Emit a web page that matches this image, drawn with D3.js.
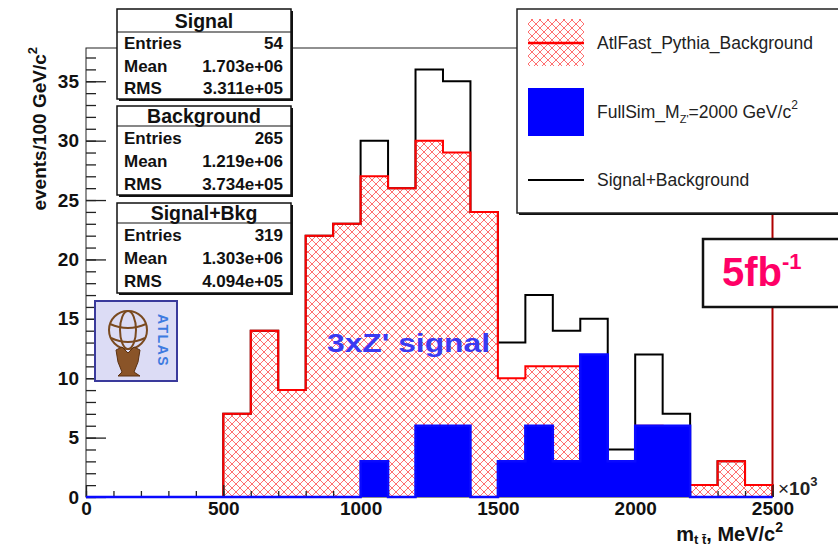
<!DOCTYPE html>
<html>
<head>
<meta charset="utf-8">
<script src="https://cdn.jsdelivr.net/npm/d3@7"></script>
<style>
  body { margin: 0; background: #fff; }
  svg { display: block; }
  text { font-family: "Liberation Sans", Arial, sans-serif; }
</style>
</head>
<body>
<svg width="838" height="548"></svg>
<script>
// bins of 100 GeV, in units of 10^3 MeV
const binLow = [0, 100, 200, 300, 400, 500, 600, 700, 800, 900, 1000, 1100, 1200,
  1300, 1400, 1500, 1600, 1700, 1800, 1900, 2000, 2100, 2200, 2300, 2400];
const binWidth = 100;

const background = [0, 0, 0, 0, 0, 7, 14, 9, 22, 23, 27, 26, 30, 29, 24, 10, 11, 11, 3, 1, 6, 1, 1, 3, 1];
const signal = [0, 0, 0, 0, 0, 0, 0, 0, 0, 0, 3, 0, 6, 6, 0, 3, 6, 3, 12, 3, 6, 6, 0, 0, 0];
const combined = [0, 0, 0, 0, 0, 7, 14, 9, 22, 23, 30, 26, 36, 35, 24, 13, 17, 14, 15, 4, 12, 7, 1, 3, 1];

const xTicks = [0, 500, 1000, 1500, 2000, 2500];
const yTicks = [0, 5, 10, 15, 20, 25, 30, 35];

const statTitles = ["Signal", "Background", "Signal+Bkg"];
const statEntries = ["54", "265", "319"];
const statMeans = ["1.703e+06", "1.219e+06", "1.303e+06"];
const statRms = ["3.311e+05", "3.734e+05", "4.094e+05"];

const svg = d3.select("svg"),
    width = +svg.attr("width"),
    height = +svg.attr("height");

const x = d3.scaleLinear().domain([0, 2500]).range([86, 772.5]);
const y = d3.scaleLinear().domain([0, 37.8]).range([497, 48]);

// hatch pattern for the background histogram
const defs = svg.append("defs");
const pat = defs.append("pattern")
    .attr("id", "hatch")
    .attr("patternUnits", "userSpaceOnUse")
    .attr("width", 8).attr("height", 8);
pat.append("path")
    .attr("d", "M0,0L8,8M0,8L8,0M-1,7L1,9M7,-1L9,1")
    .attr("stroke", "#ff4a4a")
    .attr("stroke-width", 0.8)
    .attr("fill", "none");

function stepPath(vals) {
  const p = d3.path();
  p.moveTo(x(binLow[0]), y(0));
  vals.forEach((v, i) => {
    p.lineTo(x(binLow[i]), y(v));
    p.lineTo(x(binLow[i] + binWidth), y(v));
  });
  p.lineTo(x(binLow[vals.length - 1] + binWidth), y(0));
  return p.toString();
}

// frame
svg.append("rect")
    .attr("x", x(0)).attr("y", y(37.8))
    .attr("width", x(2500) - x(0)).attr("height", y(0) - y(37.8))
    .attr("fill", "none").attr("stroke", "#222").attr("stroke-width", 1);
svg.append("line")
    .attr("x1", x(2500)).attr("x2", x(2500))
    .attr("y1", y(37.8)).attr("y2", y(0))
    .attr("stroke", "#b00000").attr("stroke-width", 2);

// signal + background outline
svg.append("path")
    .attr("d", stepPath(combined))
    .attr("fill", "none").attr("stroke", "#000").attr("stroke-width", 2);

// background, hatched
svg.append("path")
    .attr("d", stepPath(background))
    .attr("fill", "url(#hatch)").attr("stroke", "#ff0000").attr("stroke-width", 2);

// axes
const yMinor = d3.axisLeft(y).tickValues(d3.range(0, 38)).tickSizeInner(-10).tickSizeOuter(0).tickFormat("");
const yMajor = d3.axisLeft(y).tickValues(yTicks).tickSizeInner(-20).tickSizeOuter(0).tickPadding(7);
const xMinor = d3.axisBottom(x).tickValues(d3.range(0, 2501, 100)).tickSizeInner(-6).tickSizeOuter(0).tickFormat("");
const xMajor = d3.axisBottom(x).tickValues(xTicks).tickSizeInner(-12).tickSizeOuter(0).tickPadding(5)
    .tickFormat(d3.format("d"));

[yMinor, yMajor].forEach((ax) => {
  svg.append("g").attr("transform", "translate(" + x(0) + ",0)").call(ax)
    .call((g) => g.select(".domain").remove());
});
[xMinor, xMajor].forEach((ax) => {
  svg.append("g").attr("transform", "translate(0," + y(0) + ")").call(ax)
    .call((g) => g.select(".domain").remove());
});
svg.selectAll(".tick line").attr("stroke", "#222").attr("stroke-width", 1.3);
svg.selectAll(".tick text")
    .attr("font-family", "Liberation Sans, Arial, sans-serif")
    .attr("font-size", 19).attr("font-weight", "bold").attr("fill", "#111");

// signal, solid blue
svg.append("path")
    .attr("d", stepPath(signal))
    .attr("fill", "#0000ff").attr("stroke", "#0a0aff").attr("stroke-width", 2.5);

// axis titles
const xTitle = svg.append("text")
    .attr("x", 783).attr("y", 541)
    .attr("text-anchor", "end")
    .attr("font-size", 20).attr("font-weight", "bold").attr("fill", "#111");
xTitle.append("tspan").text("m");
xTitle.append("tspan").attr("font-size", 13).attr("dy", 3).text("t t\u0304");
xTitle.append("tspan").attr("dy", -3).text(", MeV/c");
xTitle.append("tspan").attr("font-size", 14).attr("dy", -9).text("2");

const expo = svg.append("text")
    .attr("x", 778).attr("y", 495)
    .attr("font-size", 19).attr("font-weight", "bold").attr("fill", "#222");
expo.append("tspan").attr("font-weight", "normal").text("\u00d7");
expo.append("tspan").text("10");
expo.append("tspan").attr("font-size", 13).attr("dy", -9).text("3");

const yTitle = svg.append("text")
    .attr("transform", "translate(46,47) rotate(-90)")
    .attr("text-anchor", "end")
    .attr("font-size", 19).attr("font-weight", "bold").attr("fill", "#111");
yTitle.append("tspan").text("events/100 GeV/c");
yTitle.append("tspan").attr("font-size", 13).attr("dy", -9).text("2");

// stats boxes
const boxTops = [9, 106, 203];
const boxSeps = [32, 126, 223];
const boxBottoms = [99, 195, 293];
statTitles.forEach((title, i) => {
  const g = svg.append("g");
  g.append("rect")
      .attr("x", 119).attr("y", boxTops[i] + 2)
      .attr("width", 174).attr("height", boxBottoms[i] - boxTops[i])
      .attr("fill", "#111");
  g.append("rect")
      .attr("x", 117).attr("y", boxTops[i])
      .attr("width", 174).attr("height", boxBottoms[i] - boxTops[i])
      .attr("fill", "#fff").attr("stroke", "#111").attr("stroke-width", 1.5);
  g.append("line")
      .attr("x1", 117).attr("x2", 291)
      .attr("y1", boxSeps[i]).attr("y2", boxSeps[i])
      .attr("stroke", "#111").attr("stroke-width", 1.2);
  g.append("text")
      .attr("x", 204).attr("y", (boxTops[i] + boxSeps[i]) / 2 + 7)
      .attr("text-anchor", "middle")
      .attr("font-size", 19.5).attr("font-weight", "bold").attr("fill", "#111")
      .text(title);
  const rowH = (boxBottoms[i] - boxSeps[i]) / 3;
  const rows = [["Entries", statEntries[i]], ["Mean", statMeans[i]], ["RMS", statRms[i]]];
  rows.forEach((r, j) => {
    const ty = boxSeps[i] + rowH * (j + 0.5) + 6;
    g.append("text").attr("x", 124).attr("y", ty)
        .attr("font-size", 17).attr("font-weight", "bold").attr("fill", "#111").text(r[0]);
    g.append("text").attr("x", 283).attr("y", ty).attr("text-anchor", "end")
        .attr("font-size", 17).attr("font-weight", "bold").attr("fill", "#111").text(r[1]);
  });
});

// legend
const leg = svg.append("g");
leg.append("rect").attr("x", 519).attr("y", 11).attr("width", 330).attr("height", 204).attr("fill", "#111");
leg.append("rect").attr("x", 517).attr("y", 9).attr("width", 330).attr("height", 204)
    .attr("fill", "#fff").attr("stroke", "#222").attr("stroke-width", 1.5);
leg.append("rect").attr("x", 528).attr("y", 19).attr("width", 56).attr("height", 47).attr("fill", "url(#hatch)");
leg.append("line").attr("x1", 528).attr("x2", 584).attr("y1", 43).attr("y2", 43)
    .attr("stroke", "#ff0000").attr("stroke-width", 2.5);
leg.append("rect").attr("x", 528).attr("y", 88).attr("width", 56).attr("height", 48).attr("fill", "#0000ff");
leg.append("line").attr("x1", 528).attr("x2", 584).attr("y1", 180).attr("y2", 180)
    .attr("stroke", "#000").attr("stroke-width", 2);
const legFont = (t) => t.attr("font-size", 17.5).attr("fill", "#222");
leg.append("text").attr("x", 597).attr("y", 49).call(legFont).text("AtlFast_Pythia_Background");
const l2 = leg.append("text").attr("x", 597).attr("y", 118).call(legFont);
l2.append("tspan").text("FullSim_M");
l2.append("tspan").attr("font-size", 11).attr("dy", 5).text("Z'");
l2.append("tspan").attr("dy", -5).text("=2000 GeV/c");
l2.append("tspan").attr("font-size", 12).attr("dy", -9).text("2");
leg.append("text").attr("x", 597).attr("y", 186).call(legFont).text("Signal+Background");

// luminosity box
svg.append("rect").attr("x", 703).attr("y", 239).attr("width", 150).attr("height", 68)
    .attr("fill", "#fff").attr("stroke", "#111").attr("stroke-width", 2.5);
const lumi = svg.append("text")
    .attr("x", 722).attr("y", 286)
    .attr("font-family", "DejaVu Sans, sans-serif")
    .attr("font-size", 40).attr("font-weight", "bold").attr("fill", "#ff0066");
lumi.append("tspan").text("5fb");
lumi.append("tspan").attr("font-size", 22).attr("dy", -17).text("-1");

// annotation
svg.append("text")
    .attr("x", 327).attr("y", 352)
    .attr("font-family", "DejaVu Sans, sans-serif")
    .attr("font-size", 25).attr("font-weight", "bold").attr("fill", "#3a3af2")
    .attr("textLength", 163).attr("lengthAdjust", "spacingAndGlyphs")
    .text("3xZ' signal");

// ATLAS logo
const logo = svg.append("g");
logo.append("rect").attr("x", 95).attr("y", 301).attr("width", 82).attr("height", 80)
    .attr("fill", "#dcdcf5").attr("stroke", "#3a3a9c").attr("stroke-width", 2);
const globe = logo.append("g").attr("fill", "none").attr("stroke", "#7a4a20").attr("stroke-width", 2);
globe.append("circle").attr("cx", 128).attr("cy", 330).attr("r", 19);
globe.append("ellipse").attr("cx", 128).attr("cy", 330).attr("rx", 8).attr("ry", 19);
globe.append("path").attr("d", "M110,324Q128,332 146,324M111,338Q128,346 145,338");
logo.append("path")
    .attr("d", "M116,350L122,347L128,353L134,347L140,350L138,362L134,372L140,376L118,376L122,372L118,362Z")
    .attr("fill", "#8a5428").attr("stroke", "#5a3010").attr("stroke-width", 1);
logo.append("text")
    .attr("transform", "translate(158,314) rotate(90)")
    .attr("font-size", 14).attr("font-weight", "bold").attr("fill", "#3d7ae0")
    .attr("letter-spacing", 1.5)
    .text("ATLAS");
</script>
</body>
</html>
